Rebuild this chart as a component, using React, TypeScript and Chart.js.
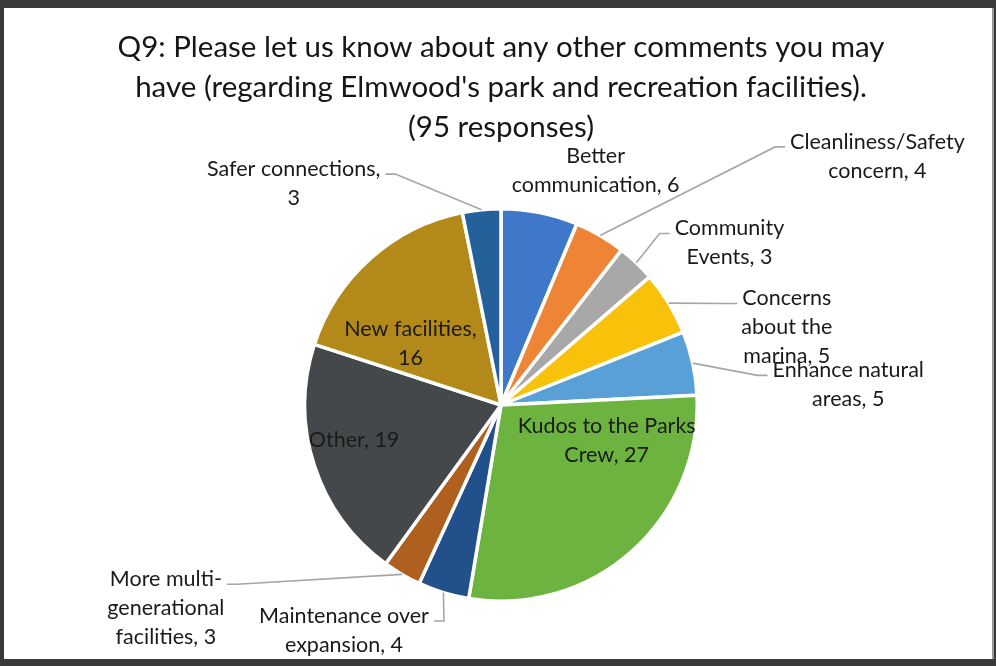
import React, { useEffect, useRef } from "react";
import { Chart, registerables } from "chart.js";

Chart.register(...registerables);

const titleLines = [
  "Q9: Please let us know about any other comments you may",
  "have (regarding Elmwood's park and recreation facilities).",
  "(95 responses)",
];

const categories = [
  "Better communication",
  "Cleanliness/Safety concern",
  "Community Events",
  "Concerns about the marina",
  "Enhance natural areas",
  "Kudos to the Parks Crew",
  "Maintenance over expansion",
  "More multi-generational facilities",
  "Other",
  "New facilities",
  "Safer connections",
];

const responses = [6, 4, 3, 5, 5, 27, 4, 3, 19, 16, 3];

// How each category label wraps ("" = value on its own line)
const labelWraps: string[][] = [
  ["Better", "communication"],
  ["Cleanliness/Safety", "concern"],
  ["Community", "Events"],
  ["Concerns", "about the", "marina"],
  ["Enhance natural", "areas"],
  ["Kudos to the Parks", "Crew"],
  ["Maintenance over", "expansion"],
  ["More multi-", "generational", "facilities"],
  ["Other"],
  ["New facilities", ""],
  ["Safer connections", ""],
];

const sliceColors = [
  "#3F78C8",
  "#EE8435",
  "#A8A8A8",
  "#F9C20A",
  "#5AA0D8",
  "#6DB33F",
  "#22508A",
  "#B0601E",
  "#45484A",
  "#B38A1A",
  "#24609A",
];

// label block centre, offset from pie centre (in px for a 195px radius)
const labelOffsets: number[][] = [
  [94, -233],
  [374, -247],
  [227, -161],
  [284, -77],
  [345, -20],
  [105, 35],
  [-156, 224],
  [-333, 202],
  [-146, 35],
  [-90, -61],
  [-206, -220],
];

const hasLeader = [false, true, true, true, true, false, true, true, false, false, true];

const FONT = "Lato, 'Open Sans', sans-serif";

function buildLines(i: number): string[] {
  const lines = labelWraps[i].slice();
  const v = String(responses[i]);
  const n = lines.length;
  if (lines[n - 1] === "") {
    lines[n - 2] += ",";
    lines[n - 1] = v;
  } else {
    lines[n - 1] += ", " + v;
  }
  return lines;
}

const labelPlugin = {
  id: "pieLabels",
  afterDraw(chart: any) {
    const ctx = chart.ctx as CanvasRenderingContext2D;
    ctx.save();
    // Title
    ctx.fillStyle = "#161616";
    ctx.textAlign = "center";
    ctx.textBaseline = "middle";
    ctx.font = `29.5px ${FONT}`;
    titleLines.forEach((t, k) => ctx.fillText(t, 501, 47 + k * 40));

    const arcs = chart.getDatasetMeta(0).data;
    ctx.font = `21.5px ${FONT}`;
    const lh = 29;
    arcs.forEach((arc: any, i: number) => {
      const p = arc.getProps(["x", "y", "startAngle", "endAngle", "outerRadius"], true);
      const mid = (p.startAngle + p.endAngle) / 2;
      const scale = p.outerRadius / 195;
      const lx = p.x + labelOffsets[i][0] * scale;
      const ly = p.y + labelOffsets[i][1] * scale;
      const lines = buildLines(i);
      const top = ly - ((lines.length - 1) * lh) / 2;
      if (hasLeader[i]) {
        const ax = p.x + Math.cos(mid) * p.outerRadius;
        const ay = p.y + Math.sin(mid) * p.outerRadius;
        const right = lx > p.x;
        const w0 = ctx.measureText(lines[0]).width;
        const ex = right ? lx - w0 / 2 - 5 : lx + w0 / 2 + 5;
        const ey = top + 5;
        const bx = right ? ex - 10 : ex + 10;
        ctx.strokeStyle = "#a6a6a6";
        ctx.lineWidth = 1.6;
        ctx.beginPath();
        ctx.moveTo(ax, ay);
        ctx.lineTo(bx, ey);
        ctx.lineTo(ex, ey);
        ctx.stroke();
      }
      ctx.fillStyle = "#1a1a1a";
      lines.forEach((t, k) => ctx.fillText(t, lx, top + k * lh));
    });
    ctx.restore();
  },
};

export default function App() {
  const ref = useRef<HTMLCanvasElement | null>(null);
  useEffect(() => {
    document.body.style.margin = "0";
    const c = ref.current;
    if (!c) return;
    const chart = new Chart(c, {
      type: "pie",
      data: {
        labels: categories,
        datasets: [
          {
            data: responses,
            backgroundColor: sliceColors,
            borderColor: "#ffffff",
            borderWidth: 3.5,
          },
        ],
      },
      options: {
        animation: false,
        responsive: false,
        maintainAspectRatio: false,
        layout: { padding: { left: 303, right: 297, top: 207, bottom: 63 } },
        plugins: {
          legend: { display: false },
          title: { display: false },
          tooltip: { enabled: false },
        },
      },
      plugins: [labelPlugin],
    });
    return () => chart.destroy();
  }, []);
  return (
    <div style={{ position: "fixed", left: 0, top: 0, width: 996, height: 666, background: "#3a3a3a" }}>
      <div
        style={{
          position: "absolute",
          left: 4,
          top: 8,
          width: 988,
          height: 651,
          background: "#ffffff",
          borderRight: "2px solid #9a9a9a",
        }}
      />
      <canvas ref={ref} width={996} height={666} style={{ position: "absolute", left: 0, top: 0 }} />
    </div>
  );
}
